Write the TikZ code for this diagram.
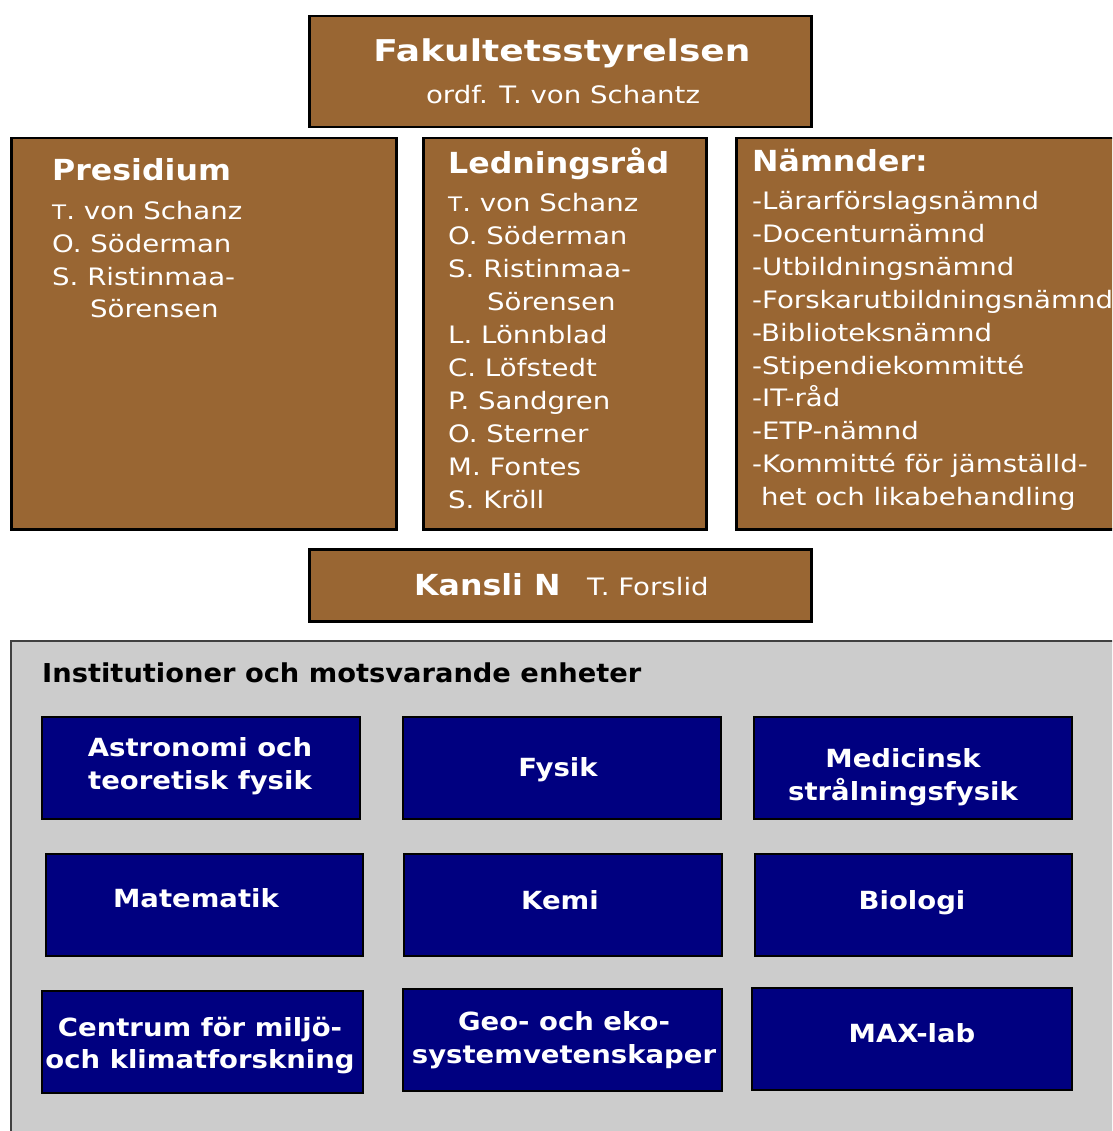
\documentclass[tikz,border=0pt]{standalone}
\usepackage{fontspec}
\setmainfont{DejaVu Sans}
\newfontfamily\regf{DejaVu Sans}[FakeStretch=1.15]
\newfontfamily\boldf{DejaVu Sans}[FakeStretch=1.09]
\newfontfamily\bigf{DejaVu Sans}[FakeStretch=1.2]
\newfontfamily\instf{DejaVu Sans}[FakeStretch=1.05]
\newfontfamily\bluef{DejaVu Sans}[FakeStretch=1.1]
\newcommand{\smT}{{\fontsize{20}{20}\selectfont T}}
\definecolor{brownc}{HTML}{996633}
\definecolor{navyc}{HTML}{000080}
\definecolor{grayc}{HTML}{CCCCCC}
\begin{document}
\begin{tikzpicture}[x=1pt,y=-1pt,
  brownbox/.style={draw=black,line width=2.5pt,fill=brownc,inner sep=0pt,anchor=north west},
  bluebox/.style={draw=black,line width=2pt,fill=navyc,inner sep=0pt,anchor=north west,minimum width=318pt,minimum height=102pt},
  graybox/.style={draw=black!75,line width=1.5pt,fill=grayc,inner sep=0pt,anchor=north west},
  ttl/.style={text=white,font=\boldf\bfseries\fontsize{29}{35}\selectfont,inner sep=0pt,anchor=base west},
  lst/.style={text=white,font=\regf\fontsize{24}{33}\selectfont,inner sep=0pt,anchor=base west},
  btxt/.style={text=white,font=\bluef\bfseries\fontsize{25}{33}\selectfont,inner sep=0pt,anchor=base}]
\useasboundingbox (0,0) rectangle (1112,1131);
\clip (0,0) rectangle (1112,1131);
% top
\node[brownbox,minimum width=502pt,minimum height=111pt] (fak) at (308,15) {};
\node[ttl,anchor=base,font=\bigf\bfseries\fontsize{30}{36}\selectfont] (fakt) at (562,62) {Fakultetsstyrelsen};
\node[lst,anchor=base] (fako) at (563,104) {ordf. T. von Schantz};
% presidium
\node[brownbox,minimum width=385pt,minimum height=391pt] (pres) at (10,137) {};
\node[ttl] (prest) at (52,181) {Presidium};
\foreach \dx/\t [count=\i] in {0/{\smT. von Schanz},0/O. Söderman,0/S. Ristinmaa-,38/Sörensen}
  \node[lst] (pres\i) at (52+\dx,{220+32.6*(\i-1)}) {\t};
% ledningsråd
\node[brownbox,minimum width=283pt,minimum height=391pt] (led) at (422,137) {};
\node[ttl] (ledt) at (448,174) {Ledningsråd};
\foreach \dx/\t [count=\i] in {0/{\smT. von Schanz},0/O. Söderman,0/S. Ristinmaa-,39/Sörensen,0/L. Lönnblad,0/C. Löfstedt,0/P. Sandgren,0/O. Sterner,0/M. Fontes,0/S. Kröll}
  \node[lst] (led\i) at (448+\dx,{212+32.9*(\i-1)}) {\t};
% nämnder
\node[brownbox,minimum width=420pt,minimum height=391pt] (nam) at (735,137) {};
\node[ttl] (namt) at (752,172) {Nämnder:};
\foreach \dx/\t [count=\i] in {0/-Lärarförslagsnämnd,0/-Docenturnämnd,0/-Utbildningsnämnd,0/-Forskarutbildningsnämnd,0/-Biblioteksnämnd,0/-Stipendiekommitté,0/-IT-råd,0/-ETP-nämnd,0/-Kommitté för jämställd-,9/het och likabehandling}
  \node[lst] (nam\i) at (752+\dx,{210+32.8*(\i-1)}) {\t};
% kansli
\node[brownbox,minimum width=502pt,minimum height=72pt] (kan) at (308,548) {};
\node[ttl] (kant) at (414,595) {Kansli N};
\node[lst] (kano) at (587,595) {T. Forslid};
% institutions
\node[graybox,minimum width=1150pt,minimum height=520pt] (inst) at (10,640) {};
\node[ttl,text=black,font=\instf\bfseries\fontsize{26}{30}\selectfont] (instt) at (42,682) {Institutioner och motsvarande enheter};
\node[bluebox] (b1) at (41,716) {};
\node[btxt] (t1a) at (200,756) {Astronomi och};
\node[btxt] (t1b) at (200,789) {teoretisk fysik};
\node[bluebox] (b2) at (402,716) {};
\node[btxt] (t2) at (558,776) {Fysik};
\node[bluebox] (b3) at (753,716) {};
\node[btxt] (t3a) at (903,767) {Medicinsk};
\node[btxt] (t3b) at (903,800) {strålningsfysik};
\node[bluebox,minimum width=317pt] (b4) at (45,853) {};
\node[btxt] (t4) at (196,907) {Matematik};
\node[bluebox] (b5) at (403,853) {};
\node[btxt] (t5) at (560,909) {Kemi};
\node[bluebox,minimum width=317pt] (b6) at (754,853) {};
\node[btxt] (t6) at (912,909) {Biologi};
\node[bluebox,minimum width=321pt] (b7) at (41,990) {};
\node[btxt] (t7a) at (200,1036) {Centrum för miljö-};
\node[btxt] (t7b) at (200,1068) {och klimatforskning};
\node[bluebox,minimum width=319pt] (b8) at (402,988) {};
\node[btxt] (t8a) at (564,1030) {Geo- och eko-};
\node[btxt] (t8b) at (564,1063) {systemvetenskaper};
\node[bluebox,minimum width=320pt] (b9) at (751,987) {};
\node[btxt] (t9) at (912,1042) {MAX-lab};
\end{tikzpicture}
\end{document}
